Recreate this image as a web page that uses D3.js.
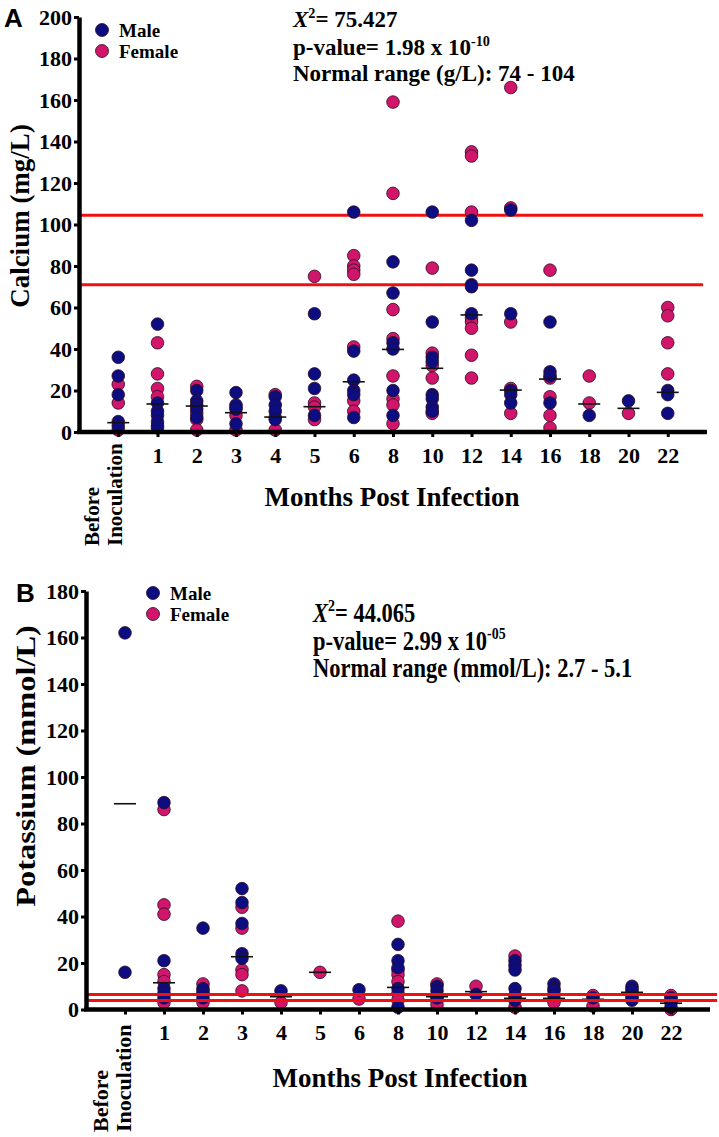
<!DOCTYPE html>
<html><head><meta charset="utf-8">
<script src="https://cdn.jsdelivr.net/npm/d3@7"></script>
<style>body{margin:0;background:#fff}svg{display:block}</style>
</head><body><svg id="c" width="719" height="1137"></svg>
<script>
// ---------- DATA ----------
const categories = ["Before Inoculation","1","2","3","4","5","6","8","10","12","14","16","18","20","22"];

const calciumTicks = [0,20,40,60,80,100,120,140,160,180,200];
const calciumMale = [
  [36,27,18,5,3],[52,14,10,8,5,3],[20,15,13,11,7],[19,13,11,4],[17,13,10,6],
  [57,28,21,8],[106,39,25,20,18,7],[82,67,43,40,20,8],[106,53,36,34,18,16,12,10],
  [102,78,71,70,57],[107,57,20,18,14],[53,29,27,14],[8],[15],[20,18,9]
];
const calciumFemale = [
  [23,14,1],[43,28,21,17,2],[22,9,6,1],[12,8,1],[18,7,1],
  [75,14,12,6],[85,80,78,76,41,15,10],[159,115,59,45,27,16,13,4],[79,38,32,26,9],
  [135,133,106,55,53,50,37,26],[166,108,53,21,9],[78,26,17,8,2],[27,14],[9],[60,56,43,28]
];
const calciumMedians = [4.5,13.5,12.5,9.3,7.2,12.2,24.2,39.8,30.7,56.4,20.2,25.5,13.5,11.4,19.1];
const calciumRangeLines = [104.5, 71];

const potassiumTicks = [0,20,40,60,80,100,120,140,160,180];
const potassiumMale = [
  [162,16],[89,21,9,7,5],[35,9,7,5],[52,46,37,24,22],[8],
  [],[8.5],[28,21,18,9,1],[10,8,6,5],
  [6.5],[21,19,17,9,6,4],[11,9,8,6],[5],[10,8,6,4],[5,3,1]
];
const potassiumFemale = [
  [],[86,45,41,15,12,3],[11,8,3],[44,35,17,15,8],[3],
  [16],[4.5],[38,17,15,12,7,4],[11,4,2],
  [10],[23,5,1],[4,3],[6,1.5],[9,5],[6,4,0]
];
const potassiumMedians = [88.5,11.5,null,22.7,5.5,16,null,9.5,5.5,7.7,4.8,4.8,4.4,7.4,2.7];
const potassiumRangeLines = [6.4, 3.9];

const seriesNames = ["Male","Female"];
const seriesColors = ["#0d0d82","#d1156b"];

// ---------- DRAW ----------
const svg = d3.select("#c");
const SERIF = "'Liberation Serif','Times New Roman',serif";
const SANS = "'Liberation Sans',Arial,sans-serif";

function drawPanel(o){
  const g = svg.append("g");
  const x = d3.scalePoint().domain(categories).range([o.left, o.right]).padding(1);
  const y = d3.scaleLinear().domain([0, o.yMax]).range([o.bottom, o.top]);
  const sy = o.sy;
  const tx = (xx,yy)=>`translate(${xx},${yy}) scale(1,${sy})`;

  const drawLines = () => g.append("g").selectAll("line").data(o.lines).join("line")
      .attr("x1", o.left).attr("x2", o.lineEnd)
      .attr("y1", d=>y(d)).attr("y2", d=>y(d))
      .attr("stroke","#f01010").attr("stroke-width",3);
  if(!o.linesOnTop) drawLines();

  const pts = [];
  categories.forEach((c,i)=>{
    o.female[i].forEach(v=>pts.push({c, v, s:1}));
    o.male[i].forEach(v=>pts.push({c, v, s:0}));
  });
  g.append("g").selectAll("circle").data(pts).join("circle")
    .attr("cx", d=>x(d.c)).attr("cy", d=>y(d.v)).attr("r", 6.3)
    .attr("fill", d=>seriesColors[d.s]).attr("stroke","#2b0b25").attr("stroke-width",0.8);

  const med = categories.map((c,i)=>({c, v:o.medians[i]})).filter(d=>d.v!==null);
  g.append("g").selectAll("line").data(med).join("line")
    .attr("x1", d=>x(d.c)-11).attr("x2", d=>x(d.c)+11)
    .attr("y1", d=>y(d.v)).attr("y2", d=>y(d.v))
    .attr("stroke","#111").attr("stroke-width",1.6);

  if(o.linesOnTop) drawLines();

  const ya = g.append("g").attr("transform",`translate(${o.left},0)`)
    .call(d3.axisLeft(y).tickValues(o.ticks).tickSize(5).tickSizeOuter(0).tickPadding(2));
  ya.select(".domain").attr("stroke","#000").attr("stroke-width",4.5);
  ya.selectAll(".tick line").attr("stroke","#000").attr("stroke-width",3);
  ya.selectAll(".tick text").attr("font-family",SERIF).attr("font-weight","bold")
    .attr("font-size",22).attr("fill","#000").attr("dy","0.34em");

  const xa = g.append("g").attr("transform",`translate(0,${o.bottom})`)
    .call(d3.axisBottom(x).tickSize(5).tickSizeOuter(0).tickPadding(10)
      .tickFormat(d=>d==="Before Inoculation"?"":d));
  xa.select(".domain").attr("stroke","#000").attr("stroke-width",4.5)
    .attr("d",`M${o.left-2},0H${o.right}`);
  xa.selectAll(".tick line").attr("stroke","#000").attr("stroke-width",3);
  xa.selectAll(".tick text").attr("font-family",SERIF).attr("font-weight","bold")
    .attr("font-size",22).attr("fill","#000");

  const bx = x(categories[0]);
  ["Before","Inoculation"].forEach((t,k)=>{
    g.append("text").text(t)
      .attr("transform",`translate(${bx + (k===0?o.beforeDx:o.inocDx)},${o.beforeBottom}) rotate(-90)`)
      .attr("text-anchor","start").attr("font-family",SERIF).attr("font-weight","bold")
      .attr("font-size",o.beforeSize).attr("fill","#000");
  });

  g.append("text").text("Months Post Infection")
    .attr("x",o.xTitleX).attr("y",o.xTitleY).attr("text-anchor","middle")
    .attr("font-family",SERIF).attr("font-weight","bold").attr("font-size",27);
  g.append("text").text(o.yTitle)
    .attr("transform",`translate(${o.yTitleX},${o.yTitleY}) scale(1,${sy}) rotate(-90)`)
    .attr("text-anchor","middle")
    .attr("font-family",SERIF).attr("font-weight","bold").attr("font-size",27);

  g.append("text").text(o.letter).attr("x",o.letterX).attr("y",o.letterY)
    .attr("font-family",SANS).attr("font-weight","bold").attr("font-size",26);

  seriesNames.forEach((n,k)=>{
    g.append("circle").attr("cx",o.legX).attr("cy",o.legY + k*o.legGap).attr("r",6.5)
      .attr("fill",seriesColors[k]).attr("stroke","#2b0b25").attr("stroke-width",0.8);
    g.append("text").text(n)
      .attr("x",o.legX+17).attr("y",o.legY + k*o.legGap + 7)
      .attr("font-family",SERIF).attr("font-weight","bold").attr("font-size",o.legSize);
  });

  const st = (yy)=>g.append("text").attr("transform",tx(o.statX,yy))
      .attr("font-family",SERIF).attr("font-weight","bold").attr("font-size",o.statSize);
  const t1 = st(o.statY[0]);
  t1.append("tspan").attr("font-style","italic").text("X");
  t1.append("tspan").attr("dy",-9).attr("font-size",o.statSize*0.62).text("2");
  t1.append("tspan").attr("dy",9).text("= " + o.chi);
  const t2 = st(o.statY[1]);
  t2.append("tspan").text("p-value= " + o.pBase + " x 10");
  t2.append("tspan").attr("dy",-9).attr("font-size",o.statSize*0.62).text(o.pExp);
  st(o.statY[2]).text(o.normal);
}

drawPanel({
  left:79, right:707, top:17, bottom:432, yMax:200, ticks:calciumTicks,
  male:calciumMale, female:calciumFemale, medians:calciumMedians,
  lines:calciumRangeLines, lineEnd:703, linesOnTop:false, sy:1,
  beforeDx:-19, inocDx:4, beforeBottom:546, beforeSize:21,
  xTitleX:392, xTitleY:506, yTitle:"Calcium (mg/L)", yTitleX:29, yTitleY:216,
  letter:"A", letterX:4, letterY:27,
  legX:102, legY:30, legGap:21, legSize:19,
  statX:293, statY:[27,55,81], statSize:23,
  chi:"75.427", pBase:"1.98", pExp:"-10", normal:"Normal range (g/L): 74 - 104"
});

drawPanel({
  left:86, right:710, top:591, bottom:1009.5, yMax:180, ticks:potassiumTicks,
  male:potassiumMale, female:potassiumFemale, medians:potassiumMedians,
  lines:potassiumRangeLines, lineEnd:717, linesOnTop:true, sy:1.2,
  beforeDx:-17, inocDx:6, beforeBottom:1132, beforeSize:22,
  xTitleX:400, xTitleY:1087, yTitle:"Potassium (mmol/L)", yTitleX:35, yTitleY:766,
  letter:"B", letterX:16, letterY:602,
  legX:153, legY:593, legGap:21, legSize:19,
  statX:313, statY:[622,650,677], statSize:22.5,
  chi:"44.065", pBase:"2.99", pExp:"-05", normal:"Normal range (mmol/L): 2.7 - 5.1"
});
</script></body></html>
